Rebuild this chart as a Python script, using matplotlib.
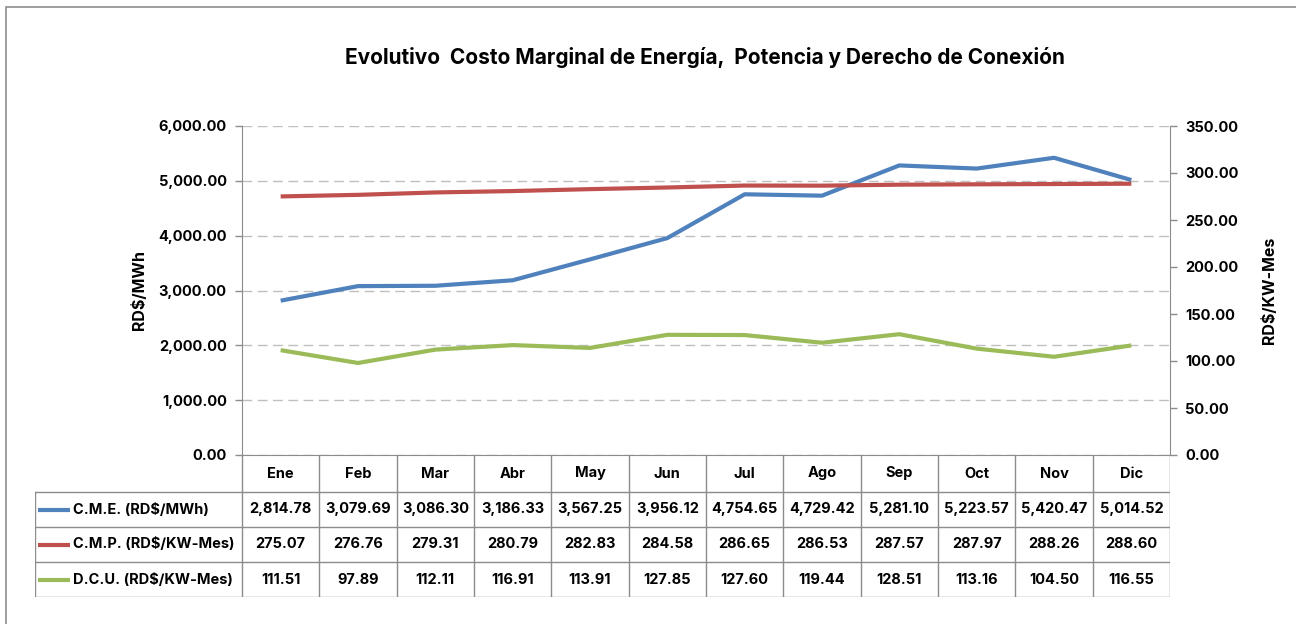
import matplotlib as mpl
import matplotlib.pyplot as plt
import matplotlib.patches as mpatches
from matplotlib.ticker import FuncFormatter, MultipleLocator

mpl.use("Agg")

plt.rcParams["font.family"] = ["Inter", "DejaVu Sans"]
plt.rcParams["font.weight"] = "bold"

months = ["Ene", "Feb", "Mar", "Abr", "May", "Jun",
          "Jul", "Ago", "Sep", "Oct", "Nov", "Dic"]
cme = [2814.78, 3079.69, 3086.30, 3186.33, 3567.25, 3956.12,
       4754.65, 4729.42, 5281.10, 5223.57, 5420.47, 5014.52]
cmp_ = [275.07, 276.76, 279.31, 280.79, 282.83, 284.58,
        286.65, 286.53, 287.57, 287.97, 288.26, 288.60]
dcu = [111.51, 97.89, 112.11, 116.91, 113.91, 127.85,
       127.60, 119.44, 128.51, 113.16, 104.50, 116.55]
series_names = ["C.M.E. (RD$/MWh)", "C.M.P. (RD$/KW-Mes)", "D.C.U. (RD$/KW-Mes)"]
series_colors = ["#4F81BD", "#C0504D", "#9BBB59"]

W, H = 1296, 624
GRAY = "#8C8C8C"
FS = 10.5
LW = 3.0


def fx(x):
    return x / W


def fy(y):
    return 1 - y / H


fig = plt.figure(figsize=(W / 100, H / 100), dpi=100)

# outer chart border
fig.patches.append(mpatches.Rectangle(
    (fx(6), fy(1000)), 2, fy(7) - fy(1000), transform=fig.transFigure,
    fill=False, edgecolor=GRAY, linewidth=1.2))

left, right, top, bottom = 242, 1170, 126, 455
ax = fig.add_axes((fx(left), fy(bottom), fx(right) - fx(left),
                   fy(top) - fy(bottom)))
ax2 = ax.twinx()

x = list(range(len(months)))
ax.set_xlim(-0.5, 11.5)
ax.set_ylim(0, 6000)
ax2.set_ylim(0, 350)

ax.yaxis.set_major_locator(MultipleLocator(1000))
ax2.yaxis.set_major_locator(MultipleLocator(50))
fmt = FuncFormatter(lambda v, p: f"{v:,.2f}")
ax.yaxis.set_major_formatter(fmt)
ax2.yaxis.set_major_formatter(fmt)
ax.set_xticks([])

ax.grid(axis="y", color="#BFBFBF", linestyle=(0, (7, 4)), linewidth=1)
ax.set_axisbelow(True)

for a in (ax, ax2):
    for side in ("top", "bottom", "left", "right"):
        a.spines[side].set_visible(False)
    a.tick_params(axis="y", length=5, width=1, color=GRAY,
                  labelsize=FS, pad=6)
    for lbl in a.get_yticklabels():
        lbl.set_fontweight("bold")
ax.spines["left"].set_visible(True)
ax.spines["left"].set_color(GRAY)
ax.spines["bottom"].set_visible(True)
ax.spines["bottom"].set_color(GRAY)
ax2.spines["right"].set_visible(True)
ax2.spines["right"].set_color(GRAY)

ax.plot(x, cme, color=series_colors[0], linewidth=LW, solid_capstyle="butt")
ax2.plot(x, cmp_, color=series_colors[1], linewidth=LW, solid_capstyle="butt")
ax2.plot(x, dcu, color=series_colors[2], linewidth=LW, solid_capstyle="butt")

ax.set_ylabel("RD$/MWh", fontsize=11.5, fontweight="bold", labelpad=8)
ax2.set_ylabel("RD$/KW-Mes", fontsize=11.5, fontweight="bold", labelpad=16)

fig.text(fx(705), fy(58), "Evolutivo  Costo Marginal de Energía,  Potencia y Derecho de Conexión",
         ha="center", va="center", fontsize=15, fontweight="bold")

# data table below the plot
tleft, tbottom = 35, 597
col_w = (right - left) / 12
tab = fig.add_axes((fx(tleft), fy(tbottom), fx(right) - fx(tleft),
                    fy(bottom) - fy(tbottom)))
tab.set_xlim(tleft, right)
tab.set_ylim(tbottom, bottom)
tab.axis("off")

rows = [455, 492, 527, 562, 597]
for i in range(13):
    xv = left + i * col_w
    tab.plot([xv, xv], [rows[0], rows[-1]], color=GRAY, linewidth=1)
tab.plot([tleft, tleft], [rows[1], rows[-1]], color=GRAY, linewidth=1)
for r in rows[1:]:
    tab.plot([tleft, right], [r, r], color=GRAY, linewidth=1)

for i, m in enumerate(months):
    tab.text(left + (i + 0.5) * col_w, (rows[0] + rows[1]) / 2, m,
             ha="center", va="center", fontsize=FS, fontweight="bold")

for k, (name, vals) in enumerate(zip(series_names, [cme, cmp_, dcu])):
    yc = (rows[k + 1] + rows[k + 2]) / 2
    tab.plot([38, 70], [yc, yc], color=series_colors[k], linewidth=LW,
             solid_capstyle="butt")
    tab.text(73, yc, name, ha="left", va="center", fontsize=10.5,
             fontweight="bold")
    for i, v in enumerate(vals):
        tab.text(left + (i + 0.5) * col_w, yc, f"{v:,.2f}",
                 ha="center", va="center", fontsize=FS, fontweight="bold")

fig.savefig("out.png", dpi=100)
